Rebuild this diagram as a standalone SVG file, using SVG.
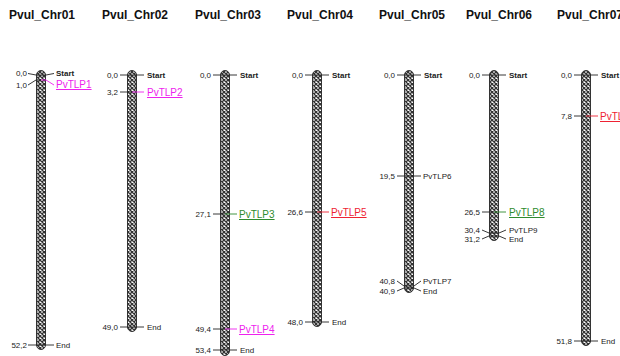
<svg xmlns="http://www.w3.org/2000/svg" width="620" height="356" viewBox="0 0 620 356">
<defs>
<pattern id="hatch" width="4" height="4" patternUnits="userSpaceOnUse">
<rect width="4" height="4" fill="#ffffff"/>
<path d="M0,0 L4,4 M4,0 L0,4" stroke="#333" stroke-width="1.3"/>
</pattern>
<style>
.title{font-family:"Liberation Sans",Arial,sans-serif;font-size:12px;font-weight:bold;fill:#111}
.num{font-family:"Liberation Sans",Arial,sans-serif;font-size:8px;fill:#222;text-anchor:end}
.lab{font-family:"Liberation Sans",Arial,sans-serif;font-size:8px;fill:#222}
.glab{font-family:"Liberation Sans",Arial,sans-serif;font-size:10px;text-decoration:underline}
.chr{fill:url(#hatch);stroke:#333;stroke-width:1}
.tk{fill:none;stroke:#222;stroke-width:0.9}
.mag{fill:#ee22ee;stroke:#ee22ee}
.grn{fill:#2e8b2e;stroke:#2e8b2e}
.red{fill:#ee2233;stroke:#ee2233}
</style>
</defs>
<rect width="620" height="356" fill="#ffffff"/>

<g id="chr01">
<text class="title" x="9" y="19">Pvul_Chr01</text>
<rect class="chr" x="36.5" y="70.5" width="9" height="279" rx="4.5"/>
</g>
<g id="chr02">
<text class="title" x="102" y="19">Pvul_Chr02</text>
<rect class="chr" x="127.5" y="70.5" width="9" height="261" rx="4.5"/>
</g>
<g id="chr03">
<text class="title" x="195" y="19">Pvul_Chr03</text>
<rect class="chr" x="220.5" y="70.5" width="9" height="285" rx="4.5"/>
</g>
<g id="chr04">
<text class="title" x="287" y="19">Pvul_Chr04</text>
<rect class="chr" x="312.5" y="70.5" width="9" height="256" rx="4.5"/>
</g>
<g id="chr05">
<text class="title" x="379" y="19">Pvul_Chr05</text>
<rect class="chr" x="404.5" y="70.5" width="9" height="222" rx="4.5"/>
</g>
<g id="chr06">
<text class="title" x="466" y="19">Pvul_Chr06</text>
<rect class="chr" x="489.5" y="70.5" width="9" height="170" rx="4.5"/>
</g>
<g id="chr07">
<text class="title" x="557" y="19">Pvul_Chr07</text>
<rect class="chr" x="581.5" y="70.5" width="9" height="275" rx="4.5"/>
</g>

<g id="connectors">
<polyline class="tk" points="28,73.5 36,75 46,75 54,73.5"/>
<polyline class="tk" points="28,85 36,80 41,80"/>
<polyline class="tk mag" style="fill:none" points="41,80 46,80 54,85"/>
<line class="tk" x1="28" y1="345" x2="54" y2="345"/>
<line class="tk" x1="120" y1="75" x2="144" y2="75"/>
<line class="tk" x1="120" y1="92" x2="132" y2="92"/>
<line class="tk mag" x1="132" y1="92" x2="144" y2="92"/>
<line class="tk" x1="120" y1="327" x2="144" y2="327"/>
<line class="tk" x1="213" y1="75" x2="237" y2="75"/>
<line class="tk" x1="213" y1="214" x2="225" y2="214"/>
<line class="tk grn" x1="225" y1="214" x2="237" y2="214"/>
<line class="tk" x1="213" y1="329" x2="225" y2="329"/>
<line class="tk mag" x1="225" y1="329" x2="237" y2="329"/>
<line class="tk" x1="213" y1="350" x2="237" y2="350"/>
<line class="tk" x1="305" y1="75" x2="329" y2="75"/>
<line class="tk" x1="305" y1="212" x2="317" y2="212"/>
<line class="tk red" x1="317" y1="212" x2="329" y2="212"/>
<line class="tk" x1="305" y1="322" x2="329" y2="322"/>
<line class="tk" x1="397" y1="75" x2="421" y2="75"/>
<line class="tk" x1="397" y1="176" x2="421" y2="176"/>
<polyline class="tk" points="397,281 404,286 414,286 421,281"/>
<polyline class="tk" points="397,291 404,288 414,288 421,291"/>
<line class="tk" x1="482" y1="75" x2="506" y2="75"/>
<line class="tk" x1="482" y1="212" x2="494" y2="212"/>
<line class="tk grn" x1="494" y1="212" x2="506" y2="212"/>
<polyline class="tk" points="482,230 489,233 499,233 506,230"/>
<polyline class="tk" points="482,239 489,236 499,236 506,239"/>
<line class="tk" x1="574" y1="75" x2="598" y2="75"/>
<line class="tk" x1="574" y1="116" x2="586" y2="116"/>
<line class="tk red" x1="586" y1="116" x2="598" y2="116"/>
<line class="tk" x1="574" y1="341" x2="598" y2="341"/>
</g>

<g id="labels">
<text class="num" x="27" y="76">0,0</text>
<text class="lab" x="56" y="76" font-weight="bold">Start</text>
<text class="num" x="27" y="88">1,0</text>
<text class="glab mag" style="stroke:none" x="56" y="88">PvTLP1</text>
<text class="num" x="27" y="348">52,2</text>
<text class="lab" x="56" y="348">End</text>

<text class="num" x="118" y="78">0,0</text>
<text class="lab" x="147" y="78" font-weight="bold">Start</text>
<text class="num" x="118" y="95">3,2</text>
<text class="glab mag" style="stroke:none" x="147" y="96">PvTLP2</text>
<text class="num" x="118" y="330">49,0</text>
<text class="lab" x="147" y="330">End</text>

<text class="num" x="211" y="78">0,0</text>
<text class="lab" x="240" y="78" font-weight="bold">Start</text>
<text class="num" x="211" y="217">27,1</text>
<text class="glab grn" style="stroke:none" x="239" y="218">PvTLP3</text>
<text class="num" x="211" y="332">49,4</text>
<text class="glab mag" style="stroke:none" x="239" y="333">PvTLP4</text>
<text class="num" x="211" y="353">53,4</text>
<text class="lab" x="240" y="353">End</text>

<text class="num" x="303" y="78">0,0</text>
<text class="lab" x="332" y="78" font-weight="bold">Start</text>
<text class="num" x="303" y="215">26,6</text>
<text class="glab red" style="stroke:none" x="331" y="216">PvTLP5</text>
<text class="num" x="303" y="325">48,0</text>
<text class="lab" x="332" y="325">End</text>

<text class="num" x="395" y="78">0,0</text>
<text class="lab" x="424" y="78" font-weight="bold">Start</text>
<text class="num" x="395" y="179">19,5</text>
<text class="lab" x="423" y="179">PvTLP6</text>
<text class="num" x="395" y="284">40,8</text>
<text class="lab" x="423" y="284">PvTLP7</text>
<text class="num" x="395" y="294">40,9</text>
<text class="lab" x="423" y="294">End</text>

<text class="num" x="480" y="78">0,0</text>
<text class="lab" x="509" y="78" font-weight="bold">Start</text>
<text class="num" x="480" y="215">26,5</text>
<text class="glab grn" style="stroke:none" x="509" y="216">PvTLP8</text>
<text class="num" x="480" y="233">30,4</text>
<text class="lab" x="509" y="233">PvTLP9</text>
<text class="num" x="480" y="242">31,2</text>
<text class="lab" x="509" y="242">End</text>

<text class="num" x="572" y="78">0,0</text>
<text class="lab" x="601" y="78" font-weight="bold">Start</text>
<text class="num" x="572" y="119">7,8</text>
<text class="glab red" style="stroke:none" x="600" y="120">PvTLP10</text>
<text class="num" x="572" y="344">51,8</text>
<text class="lab" x="601" y="344">End</text>
</g>
</svg>
